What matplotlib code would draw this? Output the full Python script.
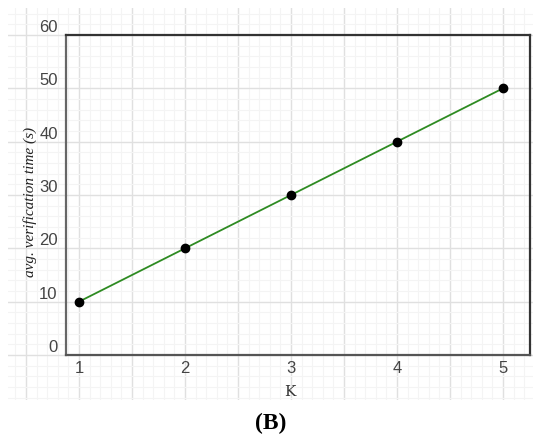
import numpy as np
import matplotlib.pyplot as plt
from matplotlib.ticker import MultipleLocator

# Data
k_values = [1, 2, 3, 4, 5]
avg_time = [10, 20, 30, 40, 50]
y_ticks = [0, 10, 20, 30, 40, 50, 60]

W, H = 550, 438
fig = plt.figure(figsize=(W / 100, H / 100), dpi=100)
fig.patch.set_facecolor("white")


def px_box(x0, y0, x1, y1):
    return [x0 / W, 1 - y1 / H, (x1 - x0) / W, (y1 - y0) / H]


# graph-paper background that reaches past the plot box
bg = fig.add_axes(px_box(8, 8, 533, 400))
bg.set_xlim(1 + (8 - 79) / 106, 1 + (533 - 79) / 106)
bg.set_ylim((355 - 400) / 5.333, (355 - 8) / 5.333)
bg.xaxis.set_major_locator(MultipleLocator(0.5))
bg.xaxis.set_minor_locator(MultipleLocator(0.1))
bg.yaxis.set_major_locator(MultipleLocator(10))
bg.yaxis.set_minor_locator(MultipleLocator(2))
bg.grid(which="major", color="#e0e0e0", lw=1.0)
bg.grid(which="minor", color="#f4f4f4", lw=0.8)
bg.tick_params(which="both", length=0, labelbottom=False, labelleft=False)
for s in bg.spines.values():
    s.set_visible(False)
bg.set_zorder(0)

# main plot
ax = fig.add_axes(px_box(66, 35, 530, 355))
ax.patch.set_alpha(0)
ax.set_zorder(1)
ax.set_xlim(1 + (66 - 79) / 106, 1 + (530 - 79) / 106)
ax.set_ylim(0, 60)

ax.plot(k_values, avg_time, color="#2e8b22", lw=1.3, zorder=3)
ax.scatter(k_values, avg_time, s=36, color="black", zorder=4)

ax.set_xticks(k_values)
ax.set_yticks(y_ticks)
ax.tick_params(length=0, labelsize=12, labelcolor="#444444")
ax.tick_params(axis="x", pad=4)
ax.tick_params(axis="y", pad=6)
for lab in ax.get_yticklabels():
    lab.set_verticalalignment("bottom")
for lab in ax.get_xticklabels() + ax.get_yticklabels():
    lab.set_fontfamily("Liberation Sans")

ax.spines["left"].set_color("#666666")
ax.spines["bottom"].set_color("#555555")
ax.spines["top"].set_color("#333333")
ax.spines["right"].set_color("#333333")
for s in ax.spines.values():
    s.set_linewidth(1.6)

ax.set_xlabel("K", fontfamily="DejaVu Serif", fontsize=11, color="#333333")
ax.xaxis.set_label_coords((290 - 66) / 464, -(392 - 355) / 320)
ax.xaxis.label.set_verticalalignment("center")
ax.set_ylabel("avg. verification time (s)", fontfamily="Liberation Serif",
              style="italic", fontsize=11, color="#222222")
ax.yaxis.set_label_coords(-(66 - 30) / 464, (355 - 202) / 320)
ax.yaxis.label.set_verticalalignment("center")

fig.text(271 / W, 1 - 423 / H, "(B)", fontfamily="Liberation Serif",
         fontweight="bold", fontsize=17, ha="center", va="center")

fig.savefig("out.png", dpi=100)
